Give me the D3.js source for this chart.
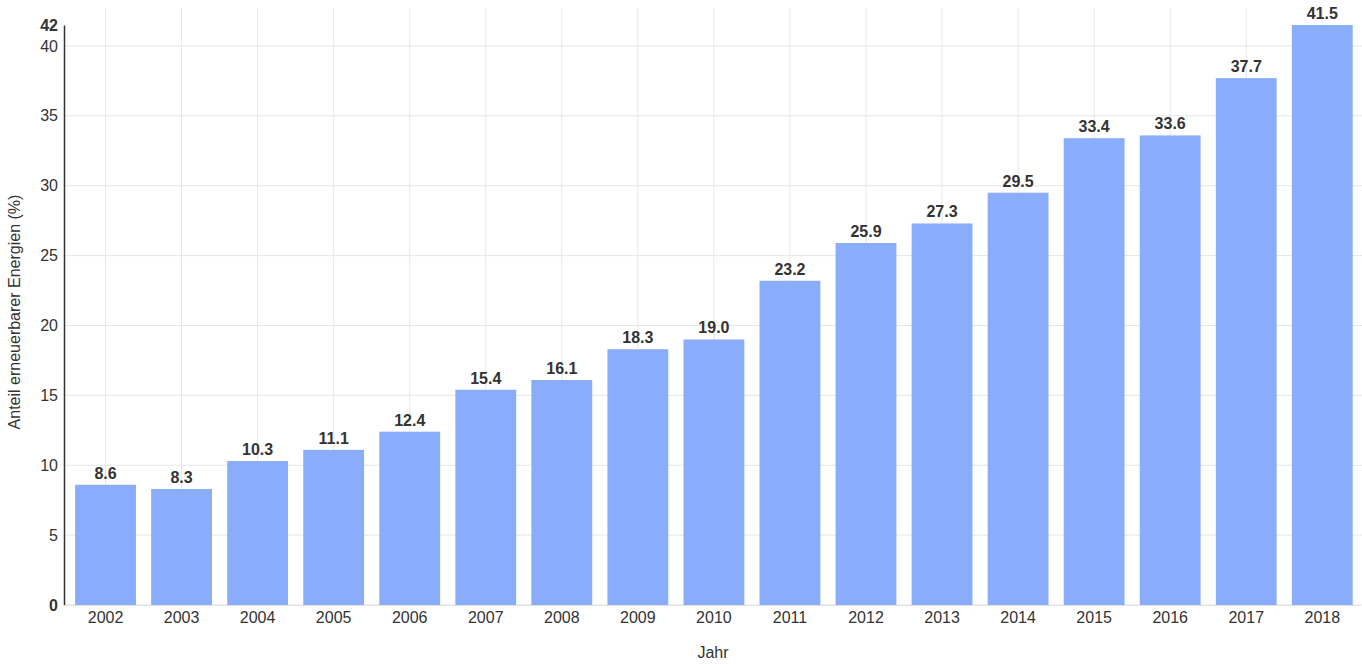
<!DOCTYPE html>
<html><head><meta charset="utf-8">
<script src="https://cdn.jsdelivr.net/npm/d3@7"></script>
<style>body{margin:0;background:#fff}svg{display:block}text{font-family:"Liberation Sans",Arial,sans-serif}</style>
</head><body><svg id="c" width="1362" height="664"></svg>
<script>
const years = ["2002","2003","2004","2005","2006","2007","2008","2009","2010","2011","2012","2013","2014","2015","2016","2017","2018"];
const values = [8.6,8.3,10.3,11.1,12.4,15.4,16.1,18.3,19.0,23.2,25.9,27.3,29.5,33.4,33.6,37.7,41.5];
const yTicks = [0,5,10,15,20,25,30,35,40];
const yMax = 41.5;
const yLabel = "Anteil erneuerbarer Energien (%)";
const xLabel = "Jahr";

(function(){
const svg = d3.select("#c");
const mLeft = 64, mTop = 25, mBottom = 605;
const fs = 16;
const x = d3.scaleBand().domain(years).range([67.5, 1360.3]).paddingInner(0.2).paddingOuter(0.1);
const y = d3.scaleLinear().domain([0, yMax]).range([mBottom, mTop]);

svg.append("g").selectAll("line").data(yTicks).join("line")
  .attr("x1", mLeft).attr("x2", 1362).attr("y1", d => y(d)).attr("y2", d => y(d))
  .attr("stroke", "#e6e6e6").attr("stroke-width", 1);
svg.append("g").selectAll("line").data(years).join("line")
  .attr("x1", d => x(d) + x.bandwidth()/2).attr("x2", d => x(d) + x.bandwidth()/2)
  .attr("y1", 8).attr("y2", mBottom)
  .attr("stroke", "#e6e6e6").attr("stroke-width", 1);

svg.append("g").selectAll("rect").data(values).join("rect")
  .attr("x", (d,i) => x(years[i])).attr("width", x.bandwidth())
  .attr("y", d => y(d)).attr("height", d => y(0) - y(d))
  .attr("fill", "#89adfb");

svg.append("g").selectAll("text").data(values).join("text")
  .attr("x", (d,i) => x(years[i]) + x.bandwidth()/2).attr("y", d => y(d) - 6)
  .attr("text-anchor", "middle").attr("font-size", fs).attr("font-weight", "bold").attr("fill", "#333")
  .text(d => d.toFixed(1));

const yAxis = d3.axisLeft(y).tickValues(yTicks.concat([yMax])).tickSize(0).tickPadding(6)
  .tickFormat(d => d === yMax ? String(Math.round(d)) : String(d));
const ga = svg.append("g").attr("transform", `translate(${mLeft},0)`).call(yAxis);
ga.select(".domain").attr("stroke", "#333").attr("stroke-width", 1.5);
ga.selectAll("text").attr("font-size", fs).attr("fill", "#333")
  .attr("font-weight", d => (d === 0 || d === yMax) ? "bold" : "normal");

const xAxis = d3.axisBottom(x).tickSize(0).tickPadding(7);
const gx = svg.append("g").attr("transform", `translate(0,${mBottom})`).call(xAxis);
gx.select(".domain").attr("stroke", "#e0e0e0").attr("d", `M${mLeft},0.5H1360`);
gx.selectAll("text").attr("font-size", fs).attr("fill", "#333");

svg.append("text").attr("x", 713).attr("y", 658).attr("text-anchor", "middle")
  .attr("font-size", fs).attr("fill", "#333").text(xLabel);
svg.append("text").attr("transform", "translate(20,312) rotate(-90)").attr("text-anchor", "middle")
  .attr("font-size", fs).attr("fill", "#333").text(yLabel);
})();
</script></body></html>
